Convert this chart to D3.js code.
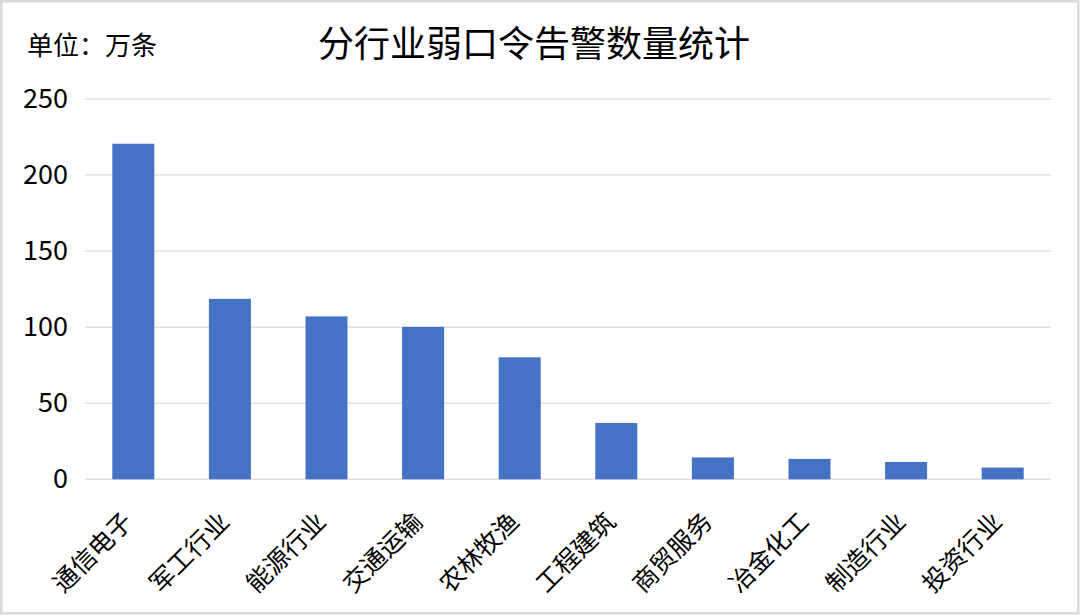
<!DOCTYPE html>
<html>
<head>
<meta charset="utf-8">
<script src="https://cdn.jsdelivr.net/npm/d3@7"></script>
<style>
  html, body { margin: 0; padding: 0; background: #fff; }
  svg { display: block; }
  text { font-family: "Noto Sans CJK SC", "Noto Sans", sans-serif; fill: #000; }
</style>
</head>
<body>
<script>
const categories = ["通信电子", "军工行业", "能源行业", "交通运输", "农林牧渔", "工程建筑", "商贸服务", "冶金化工", "制造行业", "投资行业"];
const values = [220.6, 118.6, 107.1, 100.2, 80.2, 37.0, 14.4, 13.4, 11.4, 7.7];
const yTicks = [0, 50, 100, 150, 200, 250];
const titleText = "分行业弱口令告警数量统计";
const unitText = "单位：万条";

(function () {
const W = 1080, H = 615;
const svg = d3.select("body").append("svg").attr("width", W).attr("height", H);

// frame
svg.append("rect").attr("x", 1.25).attr("y", 1.25).attr("width", W - 3).attr("height", H - 3)
  .attr("fill", "#fff").attr("stroke", "#d9d9d9").attr("stroke-width", 2.5);

const pL = 85, pR = 1051, pT = 99, pB = 479.3;

const x = d3.scaleBand().domain(categories).range([pL, pR]).paddingInner(0.565).paddingOuter(0.2825);
const y = d3.scaleLinear().domain([0, 250]).range([pB, pT]);

// gridlines
svg.append("g").selectAll("line").data(yTicks).join("line")
  .attr("x1", pL).attr("x2", pR)
  .attr("y1", d => y(d)).attr("y2", d => y(d))
  .attr("stroke", "#e0e0e0").attr("stroke-width", 1.5);

// y axis labels
const yAxis = d3.axisLeft(y).tickValues(yTicks).tickSize(0).tickPadding(0);
const gy = svg.append("g").attr("transform", `translate(${68},0)`).call(yAxis);
gy.select(".domain").remove();
gy.selectAll("text").attr("font-size", 27).attr("font-family", "'Noto Sans', sans-serif").attr("fill", "#000");

// bars
svg.append("g").selectAll("rect").data(values).join("rect")
  .attr("x", (d, i) => x(categories[i]))
  .attr("width", x.bandwidth())
  .attr("y", d => y(d))
  .attr("height", d => y(0) - y(d))
  .attr("fill", "#4472C4");

// x axis labels
const xAxis = d3.axisBottom(x).tickSize(0).tickPadding(0);
const gx = svg.append("g").attr("transform", `translate(0,${pB})`).call(xAxis);
gx.select(".domain").remove();
gx.selectAll("text")
  .attr("font-size", 25)
  .attr("fill", "#000")
  .attr("text-anchor", "end")
  .attr("dy", null)
  .attr("y", 0)
  .attr("transform", "translate(1,44) rotate(-45)");

// titles
svg.append("text").attr("x", 534).attr("y", 57).attr("text-anchor", "middle")
  .attr("font-size", 36).text(titleText);
svg.append("text").attr("x", 27).attr("y", 55).attr("font-size", 26).text(unitText);
})();
</script>
</body>
</html>
